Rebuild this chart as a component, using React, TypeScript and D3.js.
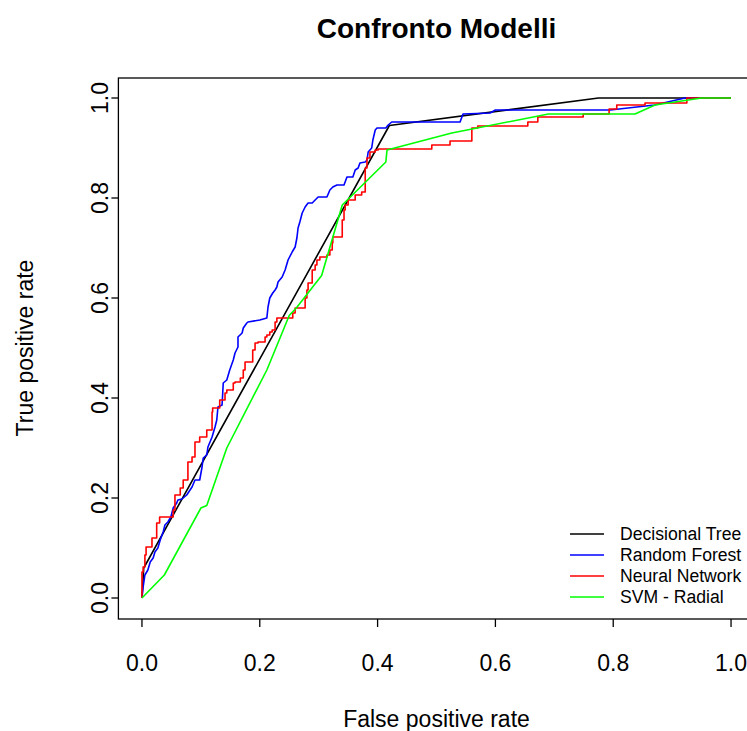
import React from "react";
import * as d3 from "d3";

type P = [number, number];

const titleText = "Confronto Modelli";
const xLabel = "False positive rate";
const yLabel = "True positive rate";
const ticks = [0, 0.2, 0.4, 0.6, 0.8, 1.0];
const tickLabels = ["0.0", "0.2", "0.4", "0.6", "0.8", "1.0"];

const seriesNames = ["Decisional Tree", "Random Forest", "Neural Network", "SVM - Radial"];
const seriesColors = ["#000000", "#0000FF", "#FF0000", "#00FF00"];

const decisionTree: P[] = [
  [0, 0], [0.003, 0.06], [0.42, 0.945], [0.775, 1], [1, 1],
];

const randomForest: P[] = [
  [0, 0], [0.002, 0.022], [0.005, 0.046], [0.01, 0.056], [0.014, 0.072], [0.019, 0.08],
  [0.022, 0.092], [0.027, 0.1], [0.031, 0.116], [0.036, 0.132], [0.039, 0.146], [0.044, 0.152],
  [0.049, 0.162], [0.053, 0.18], [0.059, 0.19], [0.061, 0.196], [0.068, 0.198], [0.076, 0.206],
  [0.085, 0.222], [0.09, 0.236], [0.098, 0.236], [0.102, 0.262], [0.104, 0.28], [0.11, 0.286],
  [0.112, 0.302], [0.119, 0.322], [0.124, 0.342], [0.127, 0.356], [0.129, 0.382], [0.136, 0.386],
  [0.138, 0.43], [0.144, 0.436], [0.149, 0.456], [0.155, 0.476], [0.158, 0.49], [0.163, 0.502],
  [0.163, 0.522], [0.17, 0.53], [0.172, 0.54], [0.178, 0.55], [0.18, 0.552], [0.2, 0.556],
  [0.212, 0.56], [0.214, 0.582], [0.217, 0.6], [0.222, 0.61], [0.226, 0.616], [0.229, 0.622],
  [0.231, 0.632], [0.238, 0.642], [0.243, 0.656], [0.248, 0.676], [0.255, 0.692], [0.26, 0.702],
  [0.263, 0.72], [0.265, 0.74], [0.268, 0.752], [0.272, 0.77], [0.277, 0.782], [0.282, 0.79],
  [0.289, 0.79], [0.294, 0.796], [0.299, 0.802], [0.314, 0.802], [0.319, 0.816], [0.324, 0.822],
  [0.331, 0.826], [0.343, 0.826], [0.348, 0.842], [0.358, 0.842], [0.362, 0.856], [0.367, 0.86],
  [0.37, 0.87], [0.379, 0.872], [0.382, 0.876], [0.384, 0.892], [0.39, 0.9], [0.392, 0.916],
  [0.396, 0.936], [0.399, 0.94], [0.414, 0.94], [0.418, 0.946], [0.424, 0.952], [0.54, 0.952],
  [0.545, 0.968], [0.591, 0.97], [0.6, 0.976], [0.795, 0.976], [0.87, 0.986], [0.922, 1], [1, 1],
];

const neuralNetwork: P[] = [
  [0, 0], [0.002, 0.052], [0.005, 0.062], [0.007, 0.086], [0.017, 0.102], [0.025, 0.12],
  [0.025, 0.142], [0.03, 0.15], [0.036, 0.162], [0.053, 0.162], [0.056, 0.176], [0.065, 0.206],
  [0.07, 0.22], [0.078, 0.236], [0.085, 0.272], [0.09, 0.282], [0.098, 0.312], [0.11, 0.322],
  [0.119, 0.336], [0.12, 0.372], [0.132, 0.38], [0.141, 0.396], [0.144, 0.41], [0.155, 0.416],
  [0.158, 0.43], [0.167, 0.432], [0.172, 0.44], [0.175, 0.456], [0.18, 0.472], [0.188, 0.472],
  [0.192, 0.496], [0.197, 0.51], [0.209, 0.512], [0.212, 0.522], [0.217, 0.526], [0.221, 0.532],
  [0.226, 0.536], [0.229, 0.552], [0.234, 0.56], [0.256, 0.56], [0.26, 0.57], [0.265, 0.58],
  [0.277, 0.58], [0.28, 0.6], [0.282, 0.616], [0.289, 0.63], [0.289, 0.646], [0.294, 0.656],
  [0.297, 0.666], [0.302, 0.676], [0.307, 0.682], [0.314, 0.682], [0.319, 0.686], [0.323, 0.696],
  [0.324, 0.71], [0.328, 0.722], [0.34, 0.722], [0.343, 0.756], [0.345, 0.776], [0.35, 0.786],
  [0.362, 0.796], [0.373, 0.806], [0.379, 0.812], [0.382, 0.86], [0.387, 0.88], [0.396, 0.892],
  [0.401, 0.896], [0.492, 0.898], [0.492, 0.906], [0.523, 0.906], [0.523, 0.914], [0.56, 0.914],
  [0.56, 0.93], [0.57, 0.94], [0.577, 0.944], [0.655, 0.944], [0.655, 0.952], [0.672, 0.952],
  [0.672, 0.962], [0.749, 0.962], [0.749, 0.968], [0.793, 0.968], [0.793, 0.978], [0.806, 0.978],
  [0.806, 0.986], [0.854, 0.986], [0.854, 0.99], [0.925, 0.99], [0.925, 1], [1, 1],
];

const svmRadial: P[] = [
  [0, 0], [0.038, 0.046], [0.1, 0.18], [0.11, 0.185], [0.144, 0.3], [0.212, 0.456],
  [0.25, 0.565], [0.262, 0.58], [0.305, 0.645], [0.34, 0.786], [0.414, 0.872], [0.416, 0.896],
  [0.526, 0.93], [0.69, 0.968], [0.837, 0.968], [0.871, 0.986], [0.95, 1], [1, 1],
];

const allSeries = [decisionTree, randomForest, neuralNetwork, svmRadial];
const stepSeries = [false, false, true, false];

export default function App() {
  const W = 747, H = 731;
  const left = 118.4, right = 754.6, top = 78, bottom = 619;
  const x = d3.scaleLinear().domain([-0.04, 1.04]).range([left, right]);
  const y = d3.scaleLinear().domain([-0.04, 1.04]).range([618, 78]);
  const font = "'Liberation Sans', Arial, Helvetica, sans-serif";
  const lineLin = d3.line<P>().x(d => x(d[0])).y(d => y(d[1]));
  const lineStep = d3.line<P>().x(d => x(d[0])).y(d => y(d[1])).curve(d3.curveStepBefore);
  const cx = (x(0) + x(1)) / 2;
  const cy = (y(0) + y(1)) / 2;
  const legendY = [537, 558, 579, 600];

  return (
    <svg width={W} height={H} style={{ position: "absolute", left: 0, top: 0, background: "#fff" }} fontFamily={font}>
      <rect x={0} y={0} width={W} height={H} fill="#fff" />
      <text x={cx} y={38} textAnchor="middle" fontSize={28} fontWeight="bold">{titleText}</text>
      {allSeries.map((s, i) => (
        <path key={i} d={(stepSeries[i] ? lineStep : lineLin)(s) || ""} fill="none" stroke={seriesColors[i]} strokeWidth={1.6} strokeLinejoin="round" />
      ))}
      <rect x={left} y={top} width={right - left} height={bottom - top} fill="none" stroke="#000" strokeWidth={1.3} />
      {/* x axis ticks */}
      {ticks.map((t, i) => (
        <g key={"xt" + i}>
          <line x1={x(t)} x2={x(t)} y1={bottom} y2={bottom + 8} stroke="#000" strokeWidth={1.3} />
          <text x={x(t)} y={671} textAnchor="middle" fontSize={23}>{tickLabels[i]}</text>
        </g>
      ))}
      {/* y axis ticks */}
      {ticks.map((t, i) => (
        <g key={"yt" + i}>
          <line x1={left} x2={left - 7} y1={y(t)} y2={y(t)} stroke="#000" strokeWidth={1.3} />
          <text transform={`translate(108,${y(t)}) rotate(-90)`} textAnchor="middle" fontSize={23}>{tickLabels[i]}</text>
        </g>
      ))}
      <text x={cx} y={727} textAnchor="middle" fontSize={23}>{xLabel}</text>
      <text transform={`translate(33,${cy}) rotate(-90)`} textAnchor="middle" fontSize={23}>{yLabel}</text>
      {/* legend */}
      {seriesNames.map((n, i) => (
        <g key={"lg" + i}>
          <line x1={570} x2={604} y1={legendY[i] - 3} y2={legendY[i] - 3} stroke={seriesColors[i]} strokeWidth={1.6} />
          <text x={620} y={legendY[i] + 3} fontSize={17.6}>{n}</text>
        </g>
      ))}
    </svg>
  );
}
